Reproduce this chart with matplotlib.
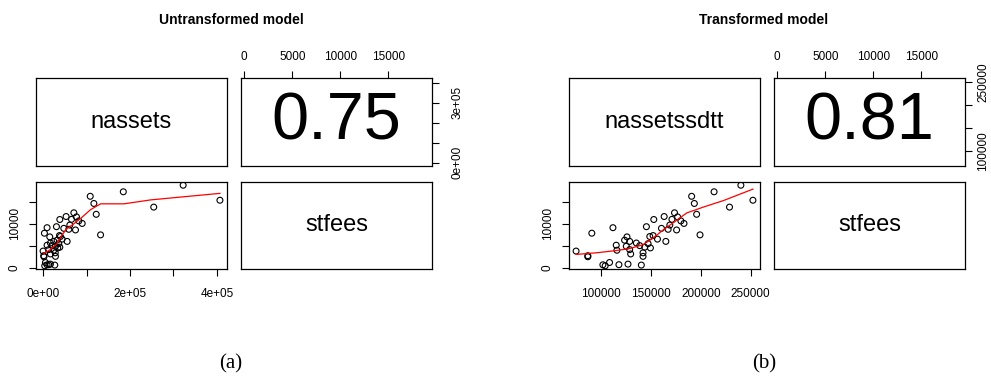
import matplotlib
matplotlib.use('Agg')
import numpy as np
import matplotlib.pyplot as plt

plt.rcParams['font.family'] = ['Liberation Sans', 'DejaVu Sans']

# paired observations: (nassets, nassetssdtt, stfees)
nassets = [322300, 184600, 108500, 406900, 116900, 254600, 70800, 122300, 76900, 53000,
           38500, 82300, 90000, 61500, 30800, 9200, 47700, 59200, 74600, 3100,
           132300, 37700, 40000, 15400, 43800, 32300, 55400, 24600, 16900, 36000,
           9200, 20800, 28500, 38500, 33800, 13100, 24600, 0, 28000, 16900,
           1500, 2000, 28500, 5400, 9200, 13100, 16900, 26900, 3800, 65400]
nassetssdtt = [240200, 213300, 190800, 252300, 193500, 228800, 173600, 195800, 176700, 163200,
               152800, 180000, 183100, 168900, 145400, 111800, 160500, 167200, 175700, 90600,
               199200, 152100, 148800, 125900, 156500, 123500, 164900, 128600, 135300, 147100,
               115100, 138700, 125200, 143700, 149400, 128600, 115800, 74800, 142000, 129600,
               86600, 86600, 142000, 108400, 101700, 117800, 126900, 140300, 104000, 171000]
stfees = [18800, 17300, 16270, 15370, 14630, 13800, 12500, 12160, 11570, 11650,
          10970, 10650, 10070, 9700, 9330, 9100, 8950, 8730, 8580, 7840,
          7460, 7300, 7090, 7000, 6490, 6250, 5970, 5970, 5600, 5450,
          5100, 5000, 4850, 4650, 4480, 4100, 3950, 3760, 3360, 3100,
          2700, 2460, 2550, 1150, 620, 650, 780, 560, 400, 11000]

# smoother traces
smooth_raw_x = [1540, 16900, 32300, 43800, 55400, 66900, 86200, 109200, 132300, 186200, 247700, 406900]
smooth_raw_y = [3210, 4100, 5450, 7460, 8960, 9700, 11190, 13210, 14550, 14550, 15450, 16940]
smooth_tr_x = [74800, 95000, 115100, 128600, 142000, 152100, 162200, 172300, 185800, 202600, 222800, 252300]
smooth_tr_y = [2990, 3360, 3880, 4330, 5220, 6720, 8580, 10220, 12460, 13810, 15300, 17910]

correlations = ['0.75', '0.81']
titles = ['Untransformed model', 'Transformed model']
captions = ['(a)', '(b)']

W, H = 991, 380
TICK = 8.5


def box(fig, x0, x1, y0, y1):
    ax = fig.add_axes([x0 / W, 1 - y1 / H, (x1 - x0) / W, (y1 - y0) / H])
    for s in ax.spines.values():
        s.set_linewidth(0.9)
    ax.tick_params(length=5, width=0.8, labelsize=TICK, direction='out')
    ax.set_xticks([])
    ax.set_yticks([])
    return ax


def rlim(v):
    v = np.asarray(v, dtype=float)
    pad = 0.04 * (v.max() - v.min())
    return v.min() - pad, v.max() + pad


def pairs_panel(fig, left, xvals, xname, corr, title, caption, xticks, xlabels,
                rticks, rlabels, sx, sy, rpad=9):
    c0, c1 = left, left + 191
    c2, c3 = left + 205, left + 396
    ylim = rlim(stfees)
    xlim = rlim(xvals)

    # diagonal: variable names
    d1 = box(fig, c0, c1, 78, 166)
    d1.text(0.5, 0.5, xname, ha='center', va='center', fontsize=17, transform=d1.transAxes)
    d2 = box(fig, c2, c3, 182, 269)
    d2.text(0.5, 0.5, 'stfees', ha='center', va='center', fontsize=17, transform=d2.transAxes)

    # upper panel: correlation
    up = box(fig, c2, c3, 78, 166)
    up.set_xlim(ylim)
    up.set_ylim(xlim)
    up.text(0.5, 0.5, corr, ha='center', va='center', fontsize=48, transform=up.transAxes)
    up.xaxis.tick_top()
    up.set_xticks([0, 5000, 10000, 15000])
    up.set_xticklabels(['0', '5000', '10000', '15000'])
    up.tick_params(axis='x', pad=6)
    up.yaxis.tick_right()
    up.set_yticks(rticks)
    up.set_yticklabels(rlabels, rotation=90, va='center')
    up.tick_params(axis='y', pad=rpad)

    # lower panel: scatter with smoother
    lo = box(fig, c0, c1, 182, 269)
    lo.scatter(xvals, stfees, s=18, facecolors='none', edgecolors='black', linewidths=0.8)
    lo.plot(sx, sy, color='red', lw=0.9)
    lo.set_xlim(xlim)
    lo.set_ylim(ylim)
    lo.set_xticks(xticks)
    lo.set_xticklabels(xlabels)
    lo.tick_params(axis='x', pad=9)
    lo.set_yticks([0, 5000, 10000, 15000])
    lo.set_yticklabels(['0', '', '10000', ''], rotation=90, va='center')
    lo.tick_params(axis='y', pad=6)

    mid = (c0 + c3) / 2 - 3
    fig.text(mid / W, 1 - 20 / H, title, ha='center', va='center', fontsize=10, fontweight='bold')
    fig.text(mid / W, 1 - 364 / H, caption, ha='center', va='center', fontsize=15,
             family='Liberation Serif')


fig = plt.figure(figsize=(W / 100, H / 100), dpi=100)

pairs_panel(fig, 36, nassets, 'nassets', correlations[0], titles[0], captions[0],
            [0, 100000, 200000, 300000, 400000], ['0e+00', '', '2e+05', '', '4e+05'],
            [0, 100000, 200000, 300000, 400000], ['0e+00', '', '', '3e+05', ''],
            smooth_raw_x, smooth_raw_y)
pairs_panel(fig, 569, nassetssdtt, 'nassetssdtt', correlations[1], titles[1], captions[1],
            [100000, 150000, 200000, 250000], ['100000', '150000', '200000', '250000'],
            [100000, 150000, 200000, 250000], ['100000', '', '', '250000'],
            smooth_tr_x, smooth_tr_y, rpad=4)

fig.savefig('out.png', dpi=100)
